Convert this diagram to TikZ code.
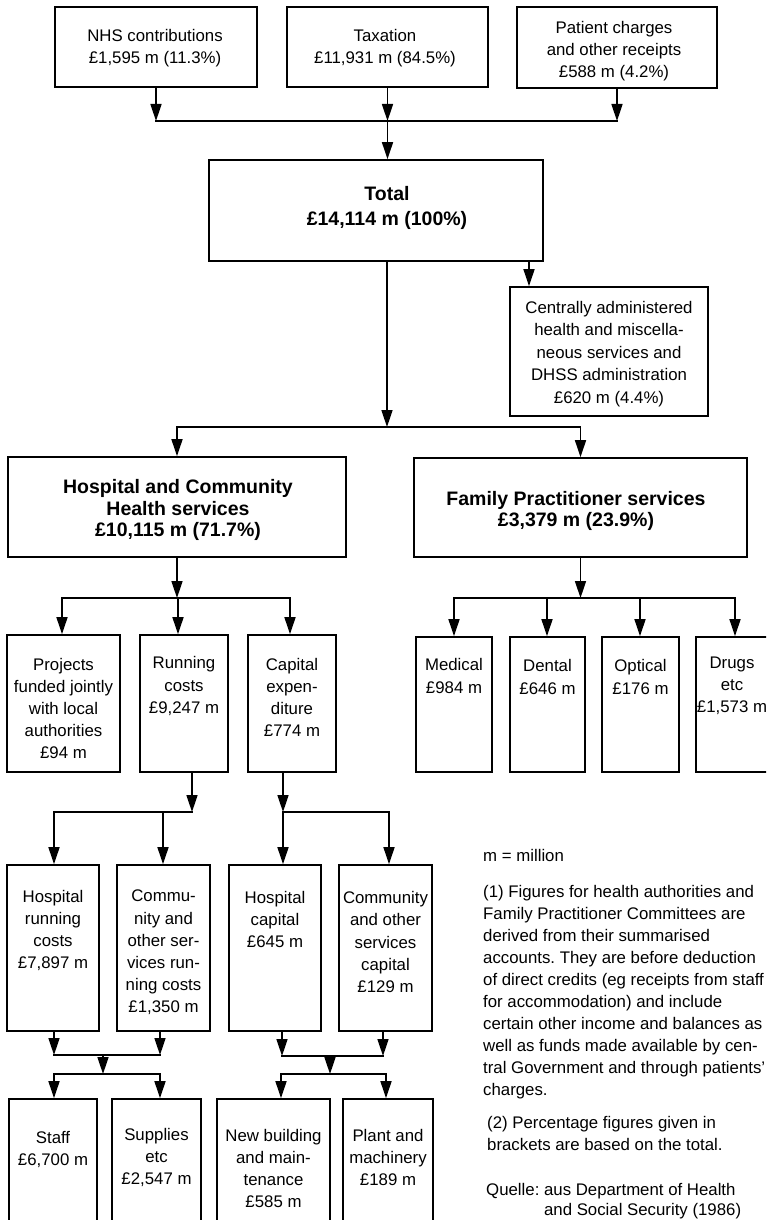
\documentclass[tikz,border=0pt]{standalone}
\usepackage{fontspec}
\setmainfont{Liberation Sans}
\usetikzlibrary{arrows.meta}
\frenchspacing
\tikzset{
 boxst/.style={draw, line width=1.7pt, inner sep=0pt},
 txt/.style={inner sep=0pt, align=center, font=\fontsize{16.8pt}{22.2pt}\selectfont},
 btxt/.style={inner sep=0pt, align=center, font=\fontsize{19.5pt}{21.5pt}\selectfont\bfseries},
 note/.style={inner sep=0pt, align=left, anchor=north west, font=\fontsize{16.8pt}{22pt}\selectfont},
 arr/.style={line width=1.6pt, -{Triangle[length=17pt,width=11pt]}},
 ln/.style={line width=1.6pt, line cap=rect},
}
\newcommand\mkbox[5]{%
 \pgfmathsetmacro\mkW{#4-#2}\pgfmathsetmacro\mkH{#5-#3}%
 \pgfmathsetmacro\mkX{(#2+#4)/2}\pgfmathsetmacro\mkY{(#3+#5)/2}%
 \node[boxst, minimum width=\mkW pt, minimum height=\mkH pt] (#1) at (\mkX,\mkY) {};}
\begin{document}
\begin{tikzpicture}[x=1pt,y=-1pt]
\useasboundingbox (0,0) rectangle (766,1220);
\clip (0,0) rectangle (766,1220);
% boxes
\mkbox{nhs}{55}{7}{257}{87}
\mkbox{tax}{287}{7}{488}{87}
\mkbox{pat}{517}{7}{717}{88}
\mkbox{total}{209}{160}{543}{261}
\mkbox{central}{510}{287}{708}{416}
\mkbox{hchs}{8}{457}{346}{557}
\mkbox{fps}{414}{458}{747}{557}
\mkbox{proj}{7}{635}{120}{772}
\mkbox{run}{140}{635}{228}{772}
\mkbox{cap}{248}{635}{336}{772}
\mkbox{med}{416}{637}{492}{772}
\mkbox{den}{510}{637}{585}{772}
\mkbox{opt}{602}{637}{679}{772}
\mkbox{drg}{696}{637}{772}{772}
\mkbox{hrc}{7}{865}{99}{1031}
\mkbox{crc}{117}{865}{210}{1031}
\mkbox{hcap}{229}{865}{321}{1031}
\mkbox{ccap}{339}{865}{432}{1031}
\mkbox{staff}{9}{1099}{97}{1240}
\mkbox{supp}{112}{1099}{201}{1240}
\mkbox{newb}{217}{1099}{330}{1240}
\mkbox{plant}{343}{1099}{433}{1240}
% texts
\node[txt] (nhs-t) at (155,48.5) {NHS contributions\\£1,595 m (11.3\%)};
\node[txt] (tax-t) at (385,48.5) {Taxation\\£11,931 m (84.5\%)};
\node[txt] (pat-t) at (614,51) {Patient charges\\and other receipts\\£588 m (4.2\%)};
\node[btxt, font=\fontsize{19.5pt}{25pt}\selectfont\bfseries] (total-t) at (387,207.5) {Total\\£14,114 m (100\%)};
\node[txt, font=\fontsize{16.8pt}{22.5pt}\selectfont] (central-t) at (609,354) {Centrally administered\\health and miscella-\\neous services and\\DHSS administration\\£620 m (4.4\%)};
\node[btxt] (hchs-t) at (178,510) {Hospital and Community\\Health services\\£10,115 m (71.7\%)};
\node[btxt] (fps-t) at (576,511) {Family Practitioner services\\£3,379 m (23.9\%)};
\node[txt] (proj-t) at (63.5,708.5) {Projects\\funded jointly\\with local\\authorities\\£94 m};
\node[txt] (run-t) at (184,686) {Running\\costs\\£9,247 m};
\node[txt] (cap-t) at (292,697.5) {Capital\\expen-\\diture\\£774 m};
\node[txt] (med-t) at (454,676) {Medical\\£984 m};
\node[txt] (den-t) at (547.5,677) {Dental\\£646 m};
\node[txt] (opt-t) at (640.5,677) {Optical\\£176 m};
\node[txt] (drg-t) at (732,686) {Drugs\\etc\\£1,573 m};
\node[txt] (hrc-t) at (53,930.5) {Hospital\\running\\costs\\£7,897 m};
\node[txt] (crc-t) at (163.5,952.5) {Commu-\\nity and\\other ser-\\vices run-\\ning costs\\£1,350 m};
\node[txt] (hcap-t) at (275,919.5) {Hospital\\capital\\£645 m};
\node[txt] (ccap-t) at (385.5,942) {Community\\and other\\services\\capital\\£129 m};
\node[txt] (staff-t) at (53,1149.5) {Staff\\£6,700 m};
\node[txt] (supp-t) at (156.5,1157.5) {Supplies\\etc\\£2,547 m};
\node[txt] (newb-t) at (273.5,1168.5) {New building\\and main-\\tenance\\£585 m};
\node[txt] (plant-t) at (388,1157.5) {Plant and\\machinery\\£189 m};
% notes
\node[note] (n0) at (483,849) {m = million};
\node[note] (n1) at (483,885) {(1) Figures for health authorities and\\Family Practitioner Committees are\\derived from their summarised\\accounts. They are before deduction\\of direct credits (eg receipts from staff\\for accommodation) and include\\certain other income and balances as\\well as funds made available by cen-\\tral Government and through patients'\\charges.};
\node[note] (n2) at (487,1116) {(2) Percentage figures given in\\brackets are based on the total.};
\node[note, font=\fontsize{16.8pt}{20.5pt}\selectfont] (n3) at (486,1183) {Quelle: aus Department of Health\\\hphantom{Quelle:\ }and Social Security (1986)};
% connectors: sources to total
\coordinate (j1) at (389,121);
\draw[arr] (nhs.south) -- (nhs.south |- j1);
\draw[arr] (tax.south) -- (tax.south |- j1);
\draw[arr] (pat.south) -- (pat.south |- j1);
\draw[ln] (nhs.south |- j1) -- (pat.south |- j1);
\draw[arr] (tax.south |- j1) -- (tax.south |- total.north);
% total to services
\coordinate (j2) at (387,427);
\draw[arr] (total.south -| j2) -- (j2);
\draw[ln] (j2 -| hchs.north) -- (j2 -| fps.north);
\draw[arr] (j2 -| hchs.north) -- (hchs.north);
\draw[arr] (j2 -| fps.north) -- (fps.north);
\coordinate (cx) at (529,0);
\draw[arr] (total.south -| cx) -- (central.north -| cx);
% hchs
\coordinate (a1) at (62,598);
\coordinate (a2) at (178,598);
\coordinate (a3) at (290,598);
\draw[arr] (hchs.south) -- (hchs.south |- a2);
\draw[ln] (a1) -- (a3);
\draw[arr] (a1) -- (a1 |- proj.north);
\draw[arr] (a2) -- (a2 |- run.north);
\draw[arr] (a3) -- (a3 |- cap.north);
% fps
\coordinate (b1) at (454,598);
\coordinate (b2) at (547,598);
\coordinate (b3) at (640,598);
\coordinate (b4) at (735,598);
\draw[arr] (fps.south) -- (fps.south |- b1);
\draw[ln] (b1) -- (b4);
\draw[arr] (b1) -- (b1 |- med.north);
\draw[arr] (b2) -- (b2 |- den.north);
\draw[arr] (b3) -- (b3 |- opt.north);
\draw[arr] (b4) -- (b4 |- drg.north);
% running costs
\coordinate (c0) at (192,812);
\coordinate (c1) at (54,812);
\coordinate (c2) at (163,812);
\draw[arr] (run.south -| c0) -- (c0);
\draw[ln] (c1) -- (c0);
\draw[arr] (c1) -- (c1 |- hrc.north);
\draw[arr] (c2) -- (c2 |- crc.north);
% capital
\coordinate (d0) at (283,812);
\coordinate (d1) at (389,812);
\draw[arr] (cap.south -| d0) -- (d0);
\draw[ln] (d0) -- (d1);
\draw[arr] (d0) -- (d0 |- hcap.north);
\draw[arr] (d1) -- (d1 |- ccap.north);
% staff / supplies
\coordinate (e1) at (54,1055);
\coordinate (e2) at (160,1055);
\coordinate (e0) at (103,1055);
\coordinate (f0) at (103,1074);
\coordinate (f1) at (54,1074);
\coordinate (f2) at (160,1074);
\draw[arr] (hrc.south -| e1) -- (e1);
\draw[arr] (crc.south -| e2) -- (e2);
\draw[ln] (e1) -- (e2);
\draw[arr] (e0) -- (f0);
\draw[ln] (f1) -- (f2);
\draw[arr] (f1) -- (f1 |- staff.north);
\draw[arr] (f2) -- (f2 |- supp.north);
% new building / plant
\coordinate (g1) at (282,1056);
\coordinate (g2) at (383,1056);
\coordinate (g0) at (330,1056);
\coordinate (h0) at (330,1074);
\coordinate (h1) at (281,1074);
\coordinate (h2) at (386,1074);
\draw[arr] (hcap.south -| g1) -- (g1);
\draw[arr] (ccap.south -| g2) -- (g2);
\draw[ln] (g1) -- (g2);
\draw[arr] (g0) -- (h0);
\draw[ln] (h1) -- (h2);
\draw[arr] (h1) -- (h1 |- newb.north);
\draw[arr] (h2) -- (h2 |- plant.north);
\end{tikzpicture}
\end{document}
